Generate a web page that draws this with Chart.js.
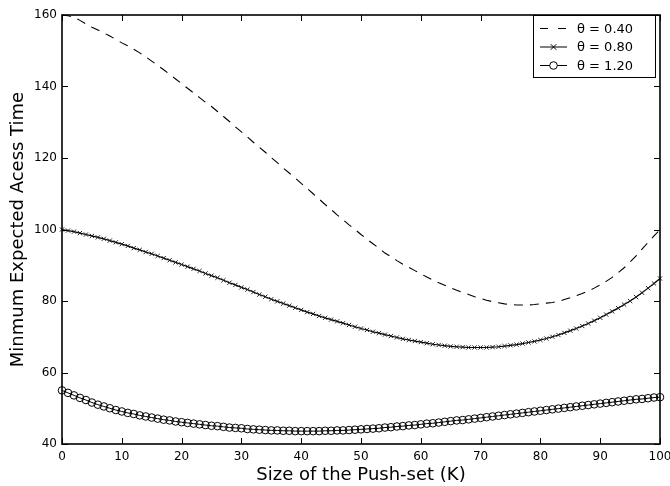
<!DOCTYPE html>
<html>
<head>
<meta charset="utf-8">
<title>Minimum expected access time</title>
<script src="https://cdn.jsdelivr.net/npm/chart.js@4"></script>
<style>
  html, body { margin: 0; padding: 0; background: #fff; }
  canvas { display: block; }
</style>
</head>
<body>
<canvas id="myChart" width="670" height="486"></canvas>
<script>
// size of the push-set, K
const pushSetSize = [
  0, 1, 2, 3, 4, 5, 6, 7, 8, 9,
  10, 11, 12, 13, 14, 15, 16, 17, 18, 19,
  20, 21, 22, 23, 24, 25, 26, 27, 28, 29,
  30, 31, 32, 33, 34, 35, 36, 37, 38, 39,
  40, 41, 42, 43, 44, 45, 46, 47, 48, 49,
  50, 51, 52, 53, 54, 55, 56, 57, 58, 59,
  60, 61, 62, 63, 64, 65, 66, 67, 68, 69,
  70, 71, 72, 73, 74, 75, 76, 77, 78, 79,
  80, 81, 82, 83, 84, 85, 86, 87, 88, 89,
  90, 91, 92, 93, 94, 95, 96, 97, 98, 99,
  100
];

// theta = 0.40 (dashed)
const theta040 = [
  160.0, 159.8, 159.3, 158.5, 157.5, 156.6, 155.8, 155.0, 154.1, 153.2,
  152.2, 151.4, 150.4, 149.4, 148.3, 147.1, 145.9, 144.7, 143.4, 142.1,
  140.8, 139.5, 138.2, 136.9, 135.6, 134.4, 133.0, 131.6, 130.2, 128.7,
  127.3, 125.9, 124.4, 123.0, 121.6, 120.1, 118.7, 117.2, 115.8, 114.4,
  112.9, 111.5, 110.0, 108.5, 107.0, 105.6, 104.1, 102.7, 101.3, 100.0,
  98.6, 97.3, 96.0, 94.8, 93.4, 92.4, 91.3, 90.3, 89.4, 88.5,
  87.6, 86.7, 85.9, 85.1, 84.4, 83.7, 83.0, 82.4, 81.8, 81.2,
  80.7, 80.2, 79.8, 79.5, 79.2, 79.0, 78.9, 78.9, 78.9, 79.0,
  79.2, 79.4, 79.6, 79.9, 80.4, 80.9, 81.5, 82.1, 82.8, 83.6,
  84.5, 85.5, 86.6, 87.9, 89.3, 90.9, 92.6, 94.5, 96.4, 98.2,
  100.0
];

// theta = 0.80 (x markers)
const theta080 = [
  100.0, 99.7, 99.4, 99.0, 98.6, 98.2, 97.8, 97.4, 96.9, 96.4,
  95.9, 95.4, 94.8, 94.3, 93.7, 93.2, 92.6, 92.0, 91.4, 90.8,
  90.2, 89.6, 89.0, 88.4, 87.7, 87.1, 86.5, 85.8, 85.1, 84.5,
  83.8, 83.2, 82.5, 81.8, 81.2, 80.5, 79.9, 79.3, 78.7, 78.1,
  77.5, 76.9, 76.4, 75.8, 75.3, 74.8, 74.3, 73.8, 73.3, 72.8,
  72.3, 71.9, 71.4, 71.0, 70.6, 70.2, 69.8, 69.4, 69.1, 68.8,
  68.5, 68.2, 67.9, 67.7, 67.5, 67.3, 67.2, 67.1, 67.0, 67.0,
  67.0, 67.0, 67.1, 67.2, 67.4, 67.6, 67.8, 68.1, 68.4, 68.7,
  69.1, 69.5, 70.0, 70.5, 71.1, 71.7, 72.3, 73.0, 73.7, 74.5,
  75.3, 76.2, 77.1, 78.0, 79.0, 80.0, 81.1, 82.3, 83.6, 84.9,
  86.3
];

// theta = 1.20 (circle markers)
const theta120 = [
  55.0, 54.3, 53.6, 52.9, 52.3, 51.6, 51.0, 50.5, 50.0, 49.5,
  49.1, 48.7, 48.4, 48.0, 47.7, 47.4, 47.1, 46.8, 46.6, 46.3,
  46.1, 45.9, 45.7, 45.5, 45.3, 45.1, 45.0, 44.8, 44.6, 44.5,
  44.4, 44.2, 44.1, 44.0, 43.9, 43.8, 43.8, 43.7, 43.7, 43.6,
  43.6, 43.6, 43.6, 43.6, 43.7, 43.7, 43.8, 43.8, 43.9, 44.0,
  44.1, 44.2, 44.3, 44.4, 44.6, 44.7, 44.9, 45.0, 45.2, 45.3,
  45.5, 45.7, 45.8, 46.0, 46.2, 46.4, 46.6, 46.7, 46.9, 47.1,
  47.3, 47.5, 47.7, 47.9, 48.1, 48.3, 48.5, 48.7, 48.9, 49.1,
  49.3, 49.5, 49.7, 49.9, 50.1, 50.3, 50.5, 50.7, 50.9, 51.1,
  51.3, 51.5, 51.7, 51.9, 52.1, 52.3, 52.5, 52.6, 52.8, 53.0,
  53.1
];

const seriesLabels = ['\u03B8 = 0.40', '\u03B8 = 0.80', '\u03B8 = 1.20'];
const xTitle = 'Size of the Push-set (K)';
const yTitle = 'Minmum Expected Acess Time';

const toPoints = vals => vals.map((v, i) => ({ x: pushSetSize[i], y: v }));

Chart.defaults.font.family = 'DejaVu Sans';
Chart.defaults.color = '#000';

const ctx = document.getElementById('myChart').getContext('2d');

// matlab style box: frame, inward ticks on all 4 sides, legend box top right
const framePlugin = {
  id: 'frame',
  afterDraw(chart) {
    const c = chart.ctx;
    const a = chart.chartArea;
    const xs = chart.scales.x;
    const ys = chart.scales.y;
    c.save();
    c.strokeStyle = '#000';
    c.lineWidth = 1;
    c.beginPath();
    xs.ticks.forEach(t => {
      const px = Math.round(xs.getPixelForValue(t.value)) + 0.5;
      c.moveTo(px, a.bottom); c.lineTo(px, a.bottom - 6);
      c.moveTo(px, a.top); c.lineTo(px, a.top + 6);
    });
    ys.ticks.forEach(t => {
      const py = Math.round(ys.getPixelForValue(t.value)) + 0.5;
      c.moveTo(a.left, py); c.lineTo(a.left + 6, py);
      c.moveTo(a.right, py); c.lineTo(a.right - 6, py);
    });
    c.stroke();
    c.lineWidth = 1.6;
    c.strokeRect(a.left, a.top, a.right - a.left, a.bottom - a.top);

    // legend
    const bx = a.right - 127, by = a.top, bw = 122, bh = 62;
    c.fillStyle = '#fff';
    c.fillRect(bx, by, bw, bh);
    c.lineWidth = 1;
    c.strokeRect(bx + 0.5, by + 0.5, bw, bh);
    c.font = '13px "DejaVu Sans"';
    c.textBaseline = 'middle';
    c.textAlign = 'left';
    chart.data.datasets.forEach((ds, i) => {
      const ly = by + 13.5 + i * 18.5;
      const x0 = bx + 7, x1 = bx + 34, xm = (x0 + x1) / 2;
      c.strokeStyle = '#000';
      c.lineWidth = 1;
      c.setLineDash(ds.borderDash ? [8, 10] : []);
      c.beginPath(); c.moveTo(x0, ly); c.lineTo(x1, ly); c.stroke();
      c.setLineDash([]);
      if (ds.pointStyle === 'crossRot') {
        const r = 2.8;
        c.beginPath();
        c.moveTo(xm - r, ly - r); c.lineTo(xm + r, ly + r);
        c.moveTo(xm - r, ly + r); c.lineTo(xm + r, ly - r);
        c.stroke();
      } else if (ds.pointStyle === 'circle') {
        c.fillStyle = '#fff';
        c.beginPath(); c.arc(xm, ly, 3.8, 0, Math.PI * 2); c.fill(); c.stroke();
      }
      c.fillStyle = '#000';
      c.fillText(ds.label, bx + 44, ly + 1);
    });
    c.restore();
  }
};

const config = {
  type: 'line',
  data: {
    datasets: [
      {
        label: seriesLabels[0],
        data: toPoints(theta040),
        borderColor: '#000',
        borderWidth: 1.1,
        borderDash: [9, 7],
        pointRadius: 0,
        pointStyle: false,
        tension: 0,
        clip: false
      },
      {
        label: seriesLabels[1],
        data: toPoints(theta080),
        borderColor: '#000',
        borderWidth: 1.2,
        pointStyle: 'crossRot',
        pointRadius: 3,
        pointBorderWidth: 1,
        pointBorderColor: '#222',
        tension: 0,
        clip: false
      },
      {
        label: seriesLabels[2],
        data: toPoints(theta120),
        borderColor: '#000',
        borderWidth: 1,
        pointStyle: 'circle',
        pointRadius: 3.8,
        pointBorderWidth: 1,
        pointBorderColor: '#000',
        pointBackgroundColor: 'rgba(0,0,0,0)',
        tension: 0,
        clip: false
      }
    ]
  },
  options: {
    responsive: false,
    animation: false,
    layout: { padding: { top: 15, right: 10, left: 0, bottom: 0 } },
    plugins: {
      legend: { display: false },
      tooltip: { enabled: false }
    },
    scales: {
      x: {
        type: 'linear',
        min: 0,
        max: 100,
        ticks: { stepSize: 10, padding: 6, font: { size: 12 }, maxRotation: 0 },
        grid: { display: false, drawTicks: false },
        border: { display: false },
        title: { display: true, text: xTitle, font: { size: 18 }, padding: { top: 0, bottom: 0 } },
        afterFit(s) { s.height = 42; s.paddingLeft = 0; s.paddingRight = 0; }
      },
      y: {
        min: 40,
        max: 160,
        ticks: { stepSize: 20, padding: 5, font: { size: 12 } },
        grid: { display: false, drawTicks: false },
        border: { display: false },
        title: { display: true, text: yTitle, font: { size: 18 }, padding: { top: 8, bottom: 0 } },
        afterFit(s) { s.width = 62; s.paddingTop = 0; s.paddingBottom = 0; }
      }
    }
  },
  plugins: [framePlugin]
};

new Chart(ctx, config);
</script>
</body>
</html>
